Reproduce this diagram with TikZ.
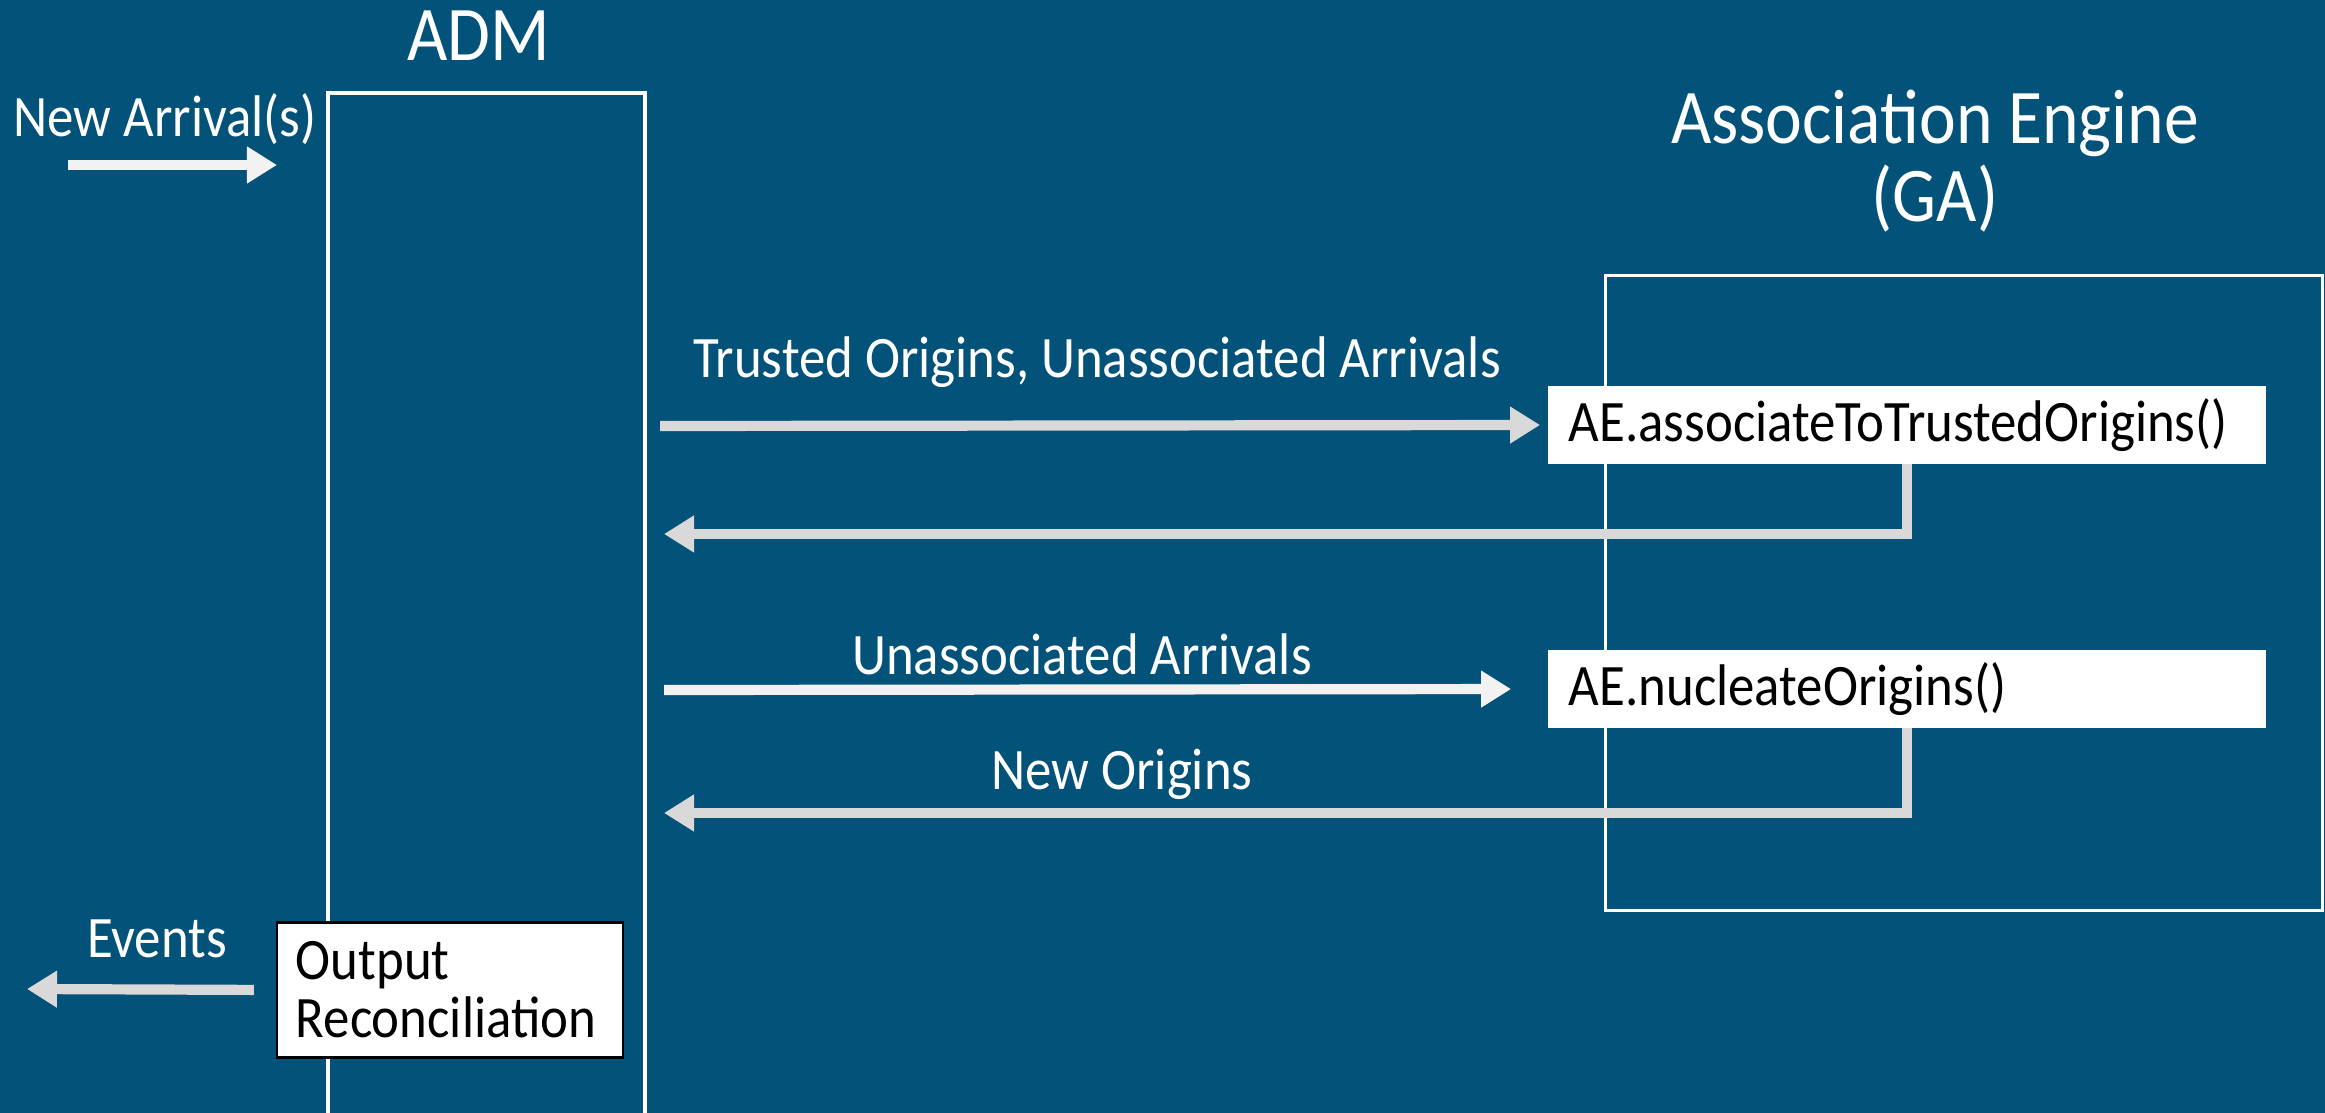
\documentclass[tikz,border=0pt]{standalone}
\usepackage{fontspec}
\setmainfont[FakeStretch=0.9]{Carlito}
\usetikzlibrary{arrows.meta,positioning}
\definecolor{slidebg}{HTML}{03527A}
\definecolor{arrowgray}{HTML}{D9D9D9}
\definecolor{arrowwhite}{HTML}{F2F2F2}

\begin{document}
\begin{tikzpicture}[
    x=0.01cm, y=-0.01cm,
    frame/.style={draw=white, line width=0.9pt},
    title/.style={text=white, font=\fontsize{22}{22}\selectfont, align=center},
    msg/.style={text=white, font=\fontsize{16.7}{19}\selectfont},
    call/.style={rectangle, fill=white, text=black, minimum width=7.18cm, minimum height=0.77cm, inner xsep=0.21cm, text width=6.76cm, align=left, font=\fontsize{16.7}{19}\selectfont},
    recon/.style={rectangle, draw=black, line width=0.6pt, fill=white, text=black, minimum width=3.46cm, minimum height=1.35cm, inner xsep=0.19cm, text width=3.08cm, align=left, font=\fontsize{16.7}{16.5}\selectfont},
    fwd/.style={draw=arrowgray, line width=2.9pt, -{Triangle[length=0.3cm,width=0.35cm]}},
    back/.style={draw=arrowgray, line width=2.9pt, -{Triangle[length=0.3cm,width=0.35cm]}}
]

\useasboundingbox (0,0) rectangle (2325,1113);
\fill[slidebg] (0,0) rectangle (2325,1113);

% ADM column, open at the bottom
\draw[frame] (328,1113) |- (645,93) -- (645,1113);
\node[title] (admT) at (479,36) {ADM};

% association engine
\node[frame, minimum width=7.16cm, minimum height=6.34cm] (engine) at (1964,593) {};
\node[title] (engT) at (1935,161) {Association Engine\\(GA)};

\node[call] (assoc) at (1907,425) {AE.associateToTrustedOrigins()};
\node[call] (nucl) at (1907,689) {AE.nucleateOrigins()};
\node[recon] (recon) at (450,990) {Output\\Reconciliation};

\coordinate (a1) at (660,426);
\coordinate (a2) at (664,534);
\coordinate (a3) at (664,690);
\coordinate (a4) at (664,813);
\coordinate (na0) at (68,165);
\coordinate (na1) at (277,165);
\coordinate (ev) at (27,989);

\draw[fwd, shorten >=2pt] (a1) -- (assoc.west);
\draw[back] (assoc.south) |- (a2);
\draw[fwd, draw=arrowwhite, shorten >=0.36cm] (a3) -- (nucl.west);
\draw[back] (nucl.south) |- (a4);
\draw[fwd, draw=arrowwhite] (na0) -- (na1);
\draw[back, shorten <=0.22cm] (recon.west) -- (ev);

\node[msg] (trustL) at (1097,362) {Trusted Origins, Unassociated Arrivals};
\node[msg] (unL) at (1082,654) {Unassociated Arrivals};
\node[msg] (newL) at (1122,774) {New Origins};
\node[msg] (evL) at (157,939) {Events};
\node[msg] (naL) at (165,119) {New Arrival(s)};

\end{tikzpicture}
\end{document}
